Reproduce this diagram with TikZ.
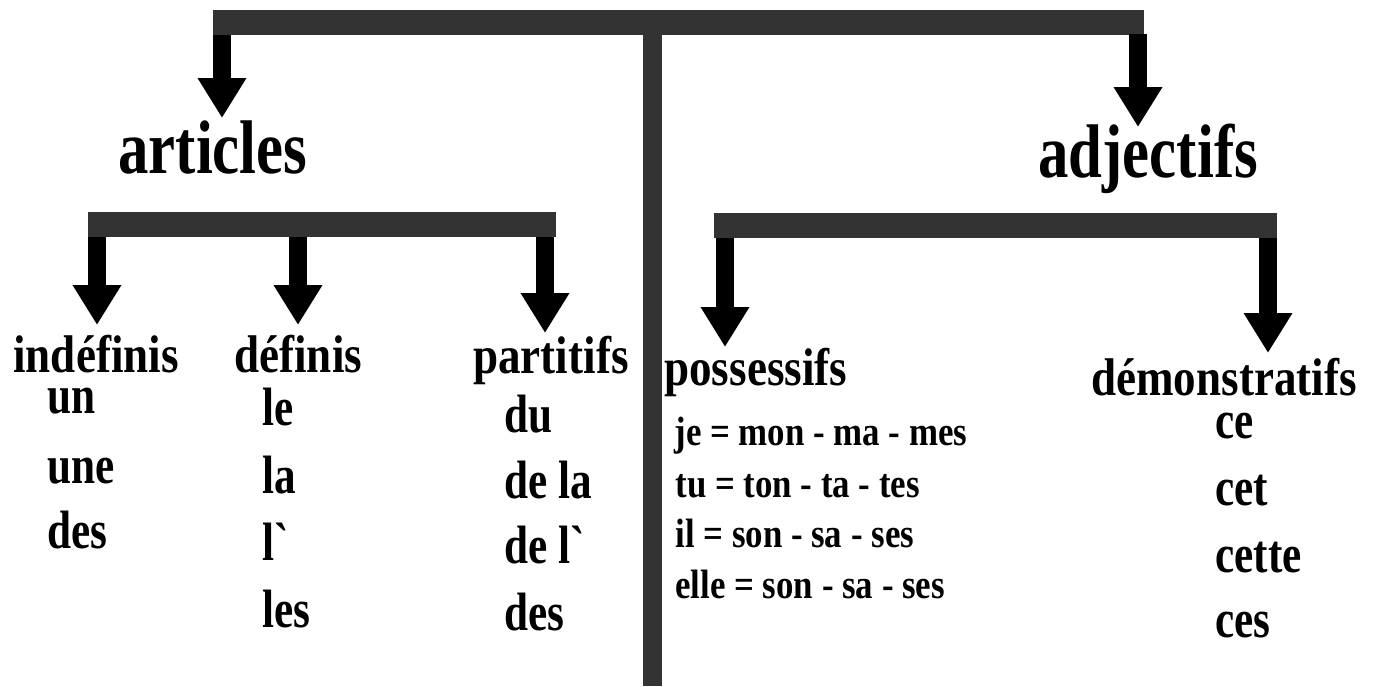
\documentclass[tikz,border=0pt]{standalone}
\usepackage{fontspec}
\newfontfamily\condfont{Liberation Serif}[FakeStretch=0.85]
\newfontfamily\narrowfont{Liberation Serif}[FakeStretch=0.8]
\usetikzlibrary{arrows.meta}
\definecolor{bargray}{HTML}{333333}
\tikzset{
  bar/.style={draw=bargray, line width=12.5pt},
  pole/.style={draw=bargray, line width=9.5pt},
  down/.style={draw=black, line width=9pt, -{Triangle[width=23pt,length=20pt]}},
  title/.style={font=\narrowfont\bfseries\fontsize{38}{40}\selectfont, anchor=base west, inner sep=0pt},
  kind/.style={font=\condfont\bfseries\fontsize{26.5}{28}\selectfont, anchor=base west, inner sep=0pt},
  word/.style={font=\narrowfont\bfseries\fontsize{27}{28}\selectfont, anchor=base west, inner sep=0pt},
  pron/.style={font=\condfont\bfseries\fontsize{20.5}{22}\selectfont, anchor=base west, inner sep=0pt},
}
\begin{document}
\begin{tikzpicture}[x=0.5pt, y=-0.5pt]
\useasboundingbox (0,0) rectangle (1386,686);
% bars
\coordinate (topL) at (213,22.5);
\coordinate (topR) at (1144,22.5);
\coordinate (poleT) at (652,22.5);
\coordinate (poleB) at (652,686);
\coordinate (artL) at (88,224.5);
\coordinate (artR) at (556,224.5);
\coordinate (adjL) at (714,225);
\coordinate (adjR) at (1277,225);
\draw[pole] (poleT) -- (poleB);
\draw[bar] (topL) -- (topR);
\draw[bar] (artL) -- (artR);
\draw[bar] (adjL) -- (adjR);
% arrow ends
\coordinate (a1s) at (222,35);   \coordinate (a1e) at (222,118);
\coordinate (a2s) at (1138,34);  \coordinate (a2e) at (1138,127);
\coordinate (b1s) at (97,237);   \coordinate (b1e) at (97,325);
\coordinate (b2s) at (298,237);  \coordinate (b2e) at (298,325);
\coordinate (b3s) at (545,237);  \coordinate (b3e) at (545,333);
\coordinate (c1s) at (725,238);  \coordinate (c1e) at (725,347);
\coordinate (c2s) at (1268,238); \coordinate (c2e) at (1268,353);
\draw[down] (a1s) -- (a1e);
\draw[down] (a2s) -- (a2e);
\draw[down] (b1s) -- (b1e);
\draw[down] (b2s) -- (b2e);
\draw[down] (b3s) -- (b3e);
\draw[down] (c1s) -- (c1e);
\draw[down] (c2s) -- (c2e);
% titles
\node[title] (articles) at (118,173) {articles};
\node[title] (adjectifs) at (1038,177) {adjectifs};
\node[kind] (indefinis) at (13,372) {indéfinis};
\node[kind] (definis) at (234,372) {définis};
\node[kind] (partitifs) at (473,373) {partitifs};
\node[kind] (possessifs) at (664,385) {possessifs};
\node[kind] (demonstr) at (1091,395) {démonstratifs};
% indefinis
\node[word] (un) at (47,413) {un};
\node[word] (une) at (47,483) {une};
\node[word] (desA) at (47,548) {des};
% definis
\node[word] (le) at (262,425) {le};
\node[word] (la) at (262,493) {la};
\node[word] (lap) at (262,560) {l`};
\node[word] (les) at (262,627) {les};
% partitifs
\node[word] (du) at (504,432) {du};
\node[word] (dela) at (504,498) {de la};
\node[word] (delap) at (504,563) {de l`};
\node[word] (desB) at (504,630) {des};
% possessifs
\node[pron] (je) at (674,445) {je = mon - ma - mes};
\node[pron] (tu) at (675,497) {tu = ton - ta - tes};
\node[pron] (il) at (675,547) {il = son - sa - ses};
\node[pron] (elle) at (675,598) {elle = son - sa - ses};
% demonstratifs
\node[word] (ce) at (1215,438) {ce};
\node[word] (cet) at (1215,505) {cet};
\node[word] (cette) at (1215,572) {cette};
\node[word] (ces) at (1215,637) {ces};
\end{tikzpicture}
\end{document}
